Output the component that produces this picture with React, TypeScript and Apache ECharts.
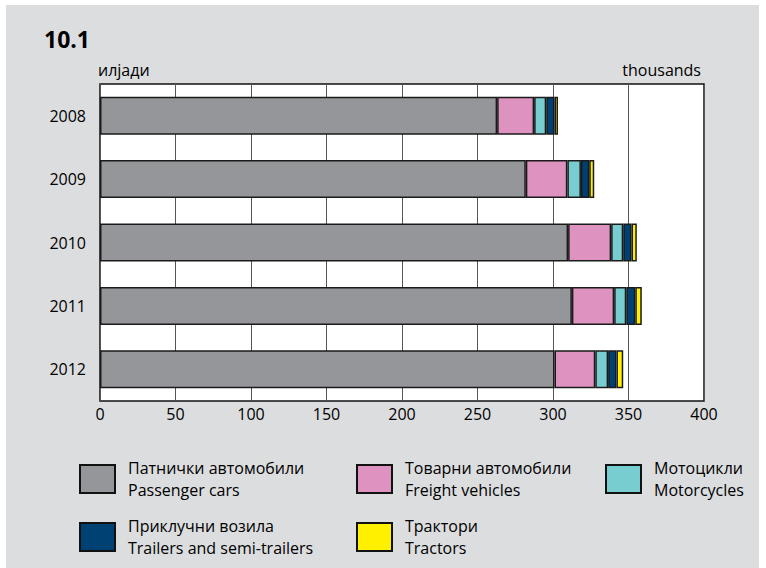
import React, { useEffect, useRef } from "react";
import * as echarts from "echarts";

const years = ["2008", "2009", "2010", "2011", "2012"];
const passengerCars = [263, 282, 310, 312.5, 301];
const freightVehicles = [24.5, 27.5, 28.5, 28, 27];
const motorcycles = [8, 9, 8, 8, 8.5];
const trailers = [5.5, 5.5, 5.5, 6, 5.5];
const tractors = [2.3, 3.3, 3.5, 4.3, 4.5];
const xTicks = [0, 50, 100, 150, 200, 250, 300, 350, 400];

const seriesNames = [
  "Патнички автомобили\nPassenger cars",
  "Товарни автомобили\nFreight vehicles",
  "Мотоцикли\nMotorcycles",
  "Приклучни возила\nTrailers and semi-trailers",
  "Трактори\nTractors",
];
const seriesData = [passengerCars, freightVehicles, motorcycles, trailers, tractors];
const colors = ["#959699", "#dd92bf", "#78cdd0", "#004174", "#fff000"];
const legendPos = [
  [79, 457],
  [356, 457],
  [605, 457],
  [79, 515],
  [356, 515],
];

const FONT = "Open Sans";

export default function App() {
  const ref = useRef<HTMLDivElement>(null);
  useEffect(() => {
    const chart = echarts.init(ref.current!, null, { renderer: "svg" });
    chart.setOption({
      animation: false,
      textStyle: { fontFamily: FONT },
      graphic: [
        {
          type: "rect",
          z: -10,
          silent: true,
          shape: { x: 6, y: 5, width: 753, height: 563 },
          style: { fill: "#dcdddf" },
        },
        {
          type: "text",
          left: 44,
          top: 27,
          style: { text: "10.1", font: `bold 23px "${FONT}"`, fill: "#000" },
        },
        {
          type: "text",
          x: 98,
          y: 70,
          style: { text: "илјади", font: `16px "${FONT}"`, fill: "#000", textVerticalAlign: "middle" },
        },
        {
          type: "text",
          x: 701,
          y: 70,
          style: {
            text: "thousands",
            font: `16px "${FONT}"`,
            fill: "#000",
            textAlign: "right",
            textVerticalAlign: "middle",
          },
        },
      ],
      grid: {
        left: 100,
        top: 84,
        width: 604,
        height: 317,
        show: true,
        backgroundColor: "#ffffff",
        borderColor: "#111",
        borderWidth: 1.5,
        containLabel: false,
      },
      xAxis: {
        type: "value",
        min: xTicks[0],
        max: xTicks[xTicks.length - 1],
        interval: xTicks[1] - xTicks[0],
        axisLine: { show: false },
        axisTick: { show: false },
        axisLabel: { color: "#000", fontSize: 16, margin: 5, fontFamily: FONT },
        splitLine: { show: true, lineStyle: { color: "#555", width: 1 } },
      },
      yAxis: {
        type: "category",
        data: years,
        inverse: true,
        axisLine: { show: false },
        axisTick: { show: false },
        axisLabel: { color: "#000", fontSize: 16, margin: 14, fontFamily: FONT },
        splitLine: { show: false },
      },
      legend: seriesNames.map((name, i) => ({
        data: [{ name, icon: "rect" }],
        left: legendPos[i][0],
        top: legendPos[i][1],
        orient: "horizontal",
        padding: 0,
        itemWidth: 35,
        itemHeight: 28,
        selectedMode: false,
        itemStyle: { borderColor: "#111", borderWidth: 2 },
        textStyle: {
          fontFamily: FONT,
          fontSize: 16,
          color: "#000",
          lineHeight: 22,
          padding: [0, 0, 0, 8],
        },
      })),
      series: seriesNames.map((name, i) => ({
        name,
        type: "bar",
        stack: "total",
        barWidth: 38,
        data: seriesData[i],
        itemStyle: { color: colors[i], borderColor: "#1a1a1a", borderWidth: 1.5 },
        emphasis: { disabled: true },
      })),
    });
    return () => chart.dispose();
  }, []);
  return (
    <div
      ref={ref}
      style={{ position: "absolute", left: 0, top: 0, width: 766, height: 568, background: "#fff" }}
    />
  );
}
